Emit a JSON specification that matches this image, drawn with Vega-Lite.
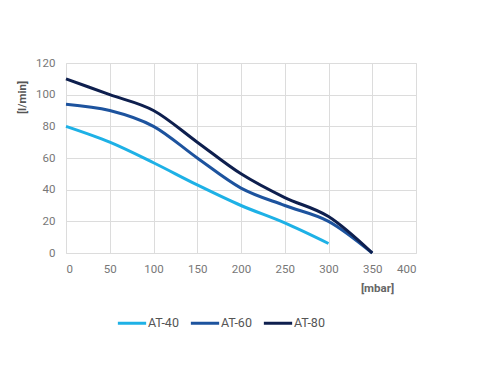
{
  "$schema": "https://vega.github.io/schema/vega-lite/v6.json",
  "autosize": "none",
  "width": 350,
  "height": 190,
  "padding": {"left": 66, "top": 63, "right": 61, "bottom": 135},
  "background": "white",
  "config": {
    "view": {"stroke": "#dcdcdc"},
    "font": "Roboto"
  },
  "data": {
    "values": [
      {"model": "AT-40", "p": 0, "q": 80},
      {"model": "AT-40", "p": 50, "q": 70},
      {"model": "AT-40", "p": 100, "q": 57},
      {"model": "AT-40", "p": 150, "q": 43},
      {"model": "AT-40", "p": 200, "q": 30},
      {"model": "AT-40", "p": 250, "q": 19},
      {"model": "AT-40", "p": 300, "q": 6},
      {"model": "AT-60", "p": 0, "q": 94},
      {"model": "AT-60", "p": 50, "q": 90},
      {"model": "AT-60", "p": 100, "q": 80},
      {"model": "AT-60", "p": 150, "q": 60},
      {"model": "AT-60", "p": 200, "q": 41},
      {"model": "AT-60", "p": 250, "q": 30},
      {"model": "AT-60", "p": 300, "q": 20},
      {"model": "AT-60", "p": 350, "q": 0},
      {"model": "AT-80", "p": 0, "q": 110},
      {"model": "AT-80", "p": 50, "q": 100},
      {"model": "AT-80", "p": 100, "q": 90},
      {"model": "AT-80", "p": 150, "q": 70},
      {"model": "AT-80", "p": 200, "q": 50},
      {"model": "AT-80", "p": 250, "q": 35},
      {"model": "AT-80", "p": 300, "q": 23},
      {"model": "AT-80", "p": 350, "q": 0}
    ]
  },
  "mark": {"type": "line", "interpolate": "monotone", "strokeWidth": 3},
  "encoding": {
    "x": {
      "field": "p", "type": "quantitative",
      "scale": {"domain": [0, 400], "nice": false},
      "axis": {
        "values": [0, 50, 100, 150, 200, 250, 300, 350, 400],
        "domain": false, "ticks": false, "gridColor": "#dcdcdc",
        "labelColor": "#777777", "labelFontSize": 11.5, "labelPadding": 10,
        "title": "[mbar]", "titleColor": "#666666", "titleFontSize": 11.5, "titleFontWeight": "bold",
        "titleX": 311, "titleY": 35, "titleAlign": "center", "titleBaseline": "middle"
      }
    },
    "y": {
      "field": "q", "type": "quantitative",
      "scale": {"domain": [0, 120], "nice": false},
      "axis": {
        "values": [0, 20, 40, 60, 80, 100, 120],
        "domain": false, "ticks": false, "gridColor": "#dcdcdc",
        "labelColor": "#777777", "labelFontSize": 11.5, "labelPadding": 11,
        "title": "[l/min]", "titleColor": "#555555", "titleFontSize": 11.5, "titleFontWeight": "bold",
        "titleX": -44, "titleY": 34, "titleAngle": -90, "titleAlign": "center", "titleBaseline": "middle"
      }
    },
    "color": {
      "field": "model", "type": "nominal",
      "scale": {"domain": ["AT-40", "AT-60", "AT-80"], "range": ["#1eb1e6", "#1d539e", "#0e1f4e"]},
      "legend": {
        "title": null, "orient": "none", "direction": "horizontal",
        "legendX": 50, "legendY": 244,
        "symbolType": "stroke", "symbolSize": 800, "symbolStrokeWidth": 3,
        "labelColor": "#555555", "labelFontSize": 12.5, "labelOffset": 0, "columnPadding": 5
      }
    }
  }
}
